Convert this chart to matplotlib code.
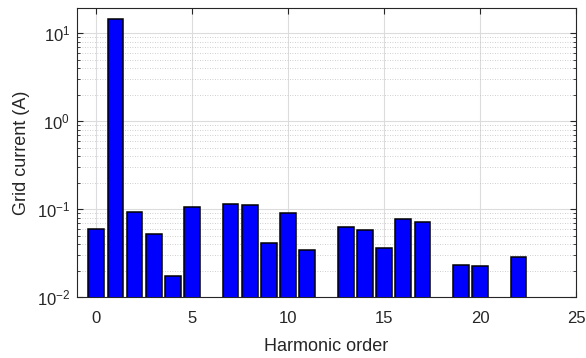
import numpy as np
import matplotlib
matplotlib.use("Agg")
import matplotlib.pyplot as plt
from matplotlib.ticker import LogLocator, NullFormatter

# harmonic spectrum of the grid current
orders = [0, 1, 2, 3, 4, 5, 7, 8, 9, 10, 11, 13, 14, 15, 16, 17, 19, 20, 22]
current = [0.058, 14.4, 0.092, 0.0515, 0.0163, 0.106, 0.114, 0.110, 0.0403,
           0.0893, 0.0336, 0.0613, 0.0567, 0.0348, 0.0764, 0.070, 0.0219,
           0.0214, 0.0272]

plt.rcParams["font.family"] = ["Liberation Sans", "DejaVu Sans"]
axcol = "#262626"

fig = plt.figure(figsize=(5.86, 3.58), dpi=100)
ax = fig.add_axes([0.1314, 0.1704, 0.8516, 0.808])

ax.bar(orders, current, width=0.82, color="#0000ff", edgecolor="black",
       linewidth=1.1, bottom=1e-3, zorder=3)

ax.set_yscale("log")
ax.set_ylim(1e-2, 19.6)
ax.set_xlim(-1, 25)
ax.set_xticks(range(0, 26, 5))
ax.yaxis.set_major_locator(LogLocator(base=10, numticks=10))
ax.yaxis.set_minor_locator(LogLocator(base=10, subs=np.arange(2, 10), numticks=10))
ax.yaxis.set_minor_formatter(NullFormatter())

ax.grid(True, which="major", color="#dcdcdc", linewidth=0.8, zorder=0)
ax.grid(True, which="minor", axis="y", color="#c0c0c0", linestyle=(0, (1, 2)),
        linewidth=0.6, zorder=0)
ax.set_axisbelow(True)

ax.tick_params(which="both", direction="in", top=True, right=True,
               colors=axcol, labelsize=12, labelcolor=axcol)
ax.tick_params(which="major", length=4)
ax.tick_params(which="minor", length=2)
ax.tick_params(axis="x", pad=10)
ax.tick_params(axis="y", pad=5)
for s in ax.spines.values():
    s.set_color(axcol)
    s.set_linewidth(0.8)

ax.set_xlabel("Harmonic order", fontsize=13, color=axcol, labelpad=9)
ax.set_ylabel("Grid current (A)", fontsize=13, color=axcol, labelpad=5)

fig.savefig("out.png", dpi=100)
